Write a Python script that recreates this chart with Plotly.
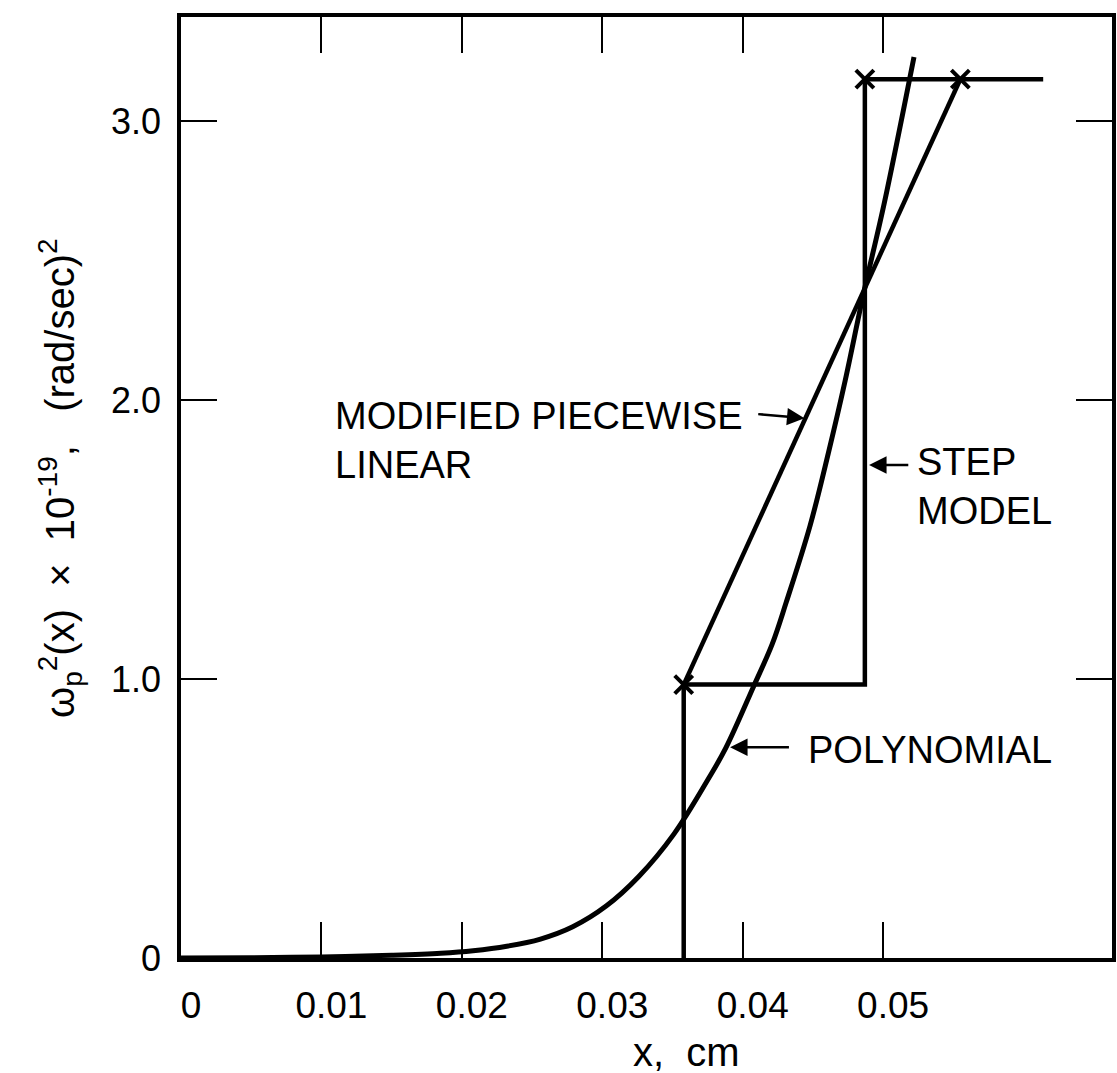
import plotly.graph_objects as go

# ---- data ----
poly_x = [0.0, 0.005, 0.010, 0.015, 0.0185, 0.0208, 0.0232, 0.0256, 0.0279, 0.0303,
          0.0326, 0.0351, 0.0376, 0.0388, 0.0408, 0.0421, 0.0431, 0.0448, 0.0461,
          0.0473, 0.0486, 0.0501, 0.0522]
poly_y = [0.0, 0.001, 0.004, 0.010, 0.017, 0.026, 0.042, 0.068, 0.112, 0.187,
          0.292, 0.444, 0.646, 0.753, 0.976, 1.125, 1.275, 1.55, 1.81,
          2.07, 2.38, 2.71, 3.23]

step_x = [0.0358, 0.0358, 0.0487, 0.0487, 0.0614]
step_y = [0.0, 0.98, 0.98, 3.15, 3.15]

pwl_x = [0.0358, 0.0555]
pwl_y = [0.98, 3.15]

mark_x = [0.0358, 0.0487, 0.0555]
mark_y = [0.98, 3.15, 3.15]

x_tickvals = [0, 0.01, 0.02, 0.03, 0.04, 0.05]
x_ticktext = ["0", "0.01", "0.02", "0.03", "0.04", "0.05"]
y_tickvals = [0, 1, 2, 3]
y_ticktext = ["0", "1.0", "2.0", "3.0"]

label_pwl = "MODIFIED PIECEWISE<br>LINEAR"
label_step = "STEP<br>MODEL"
label_poly = "POLYNOMIAL"
x_title = "x,  cm"
y_title = ("ω<sub>p</sub><sup>2</sup>(x)\u00a0\u00a0×\u00a0\u00a010<sup>-19</sup>,"
           "\u00a0\u00a0\u00a0(rad/sec)<sup>2</sup>")

FONT = "Liberation Sans, Arial, sans-serif"
INK = "black"

fig = go.Figure()
fig.add_trace(go.Scatter(x=poly_x, y=poly_y, mode="lines",
                         line=dict(color=INK, width=5, shape="spline", smoothing=1.0),
                         showlegend=False, hoverinfo="skip"))
fig.add_trace(go.Scatter(x=step_x, y=step_y, mode="lines",
                         line=dict(color=INK, width=4.5),
                         showlegend=False, hoverinfo="skip"))
fig.add_trace(go.Scatter(x=pwl_x, y=pwl_y, mode="lines",
                         line=dict(color=INK, width=4.5),
                         showlegend=False, hoverinfo="skip"))
fig.add_trace(go.Scatter(x=mark_x, y=mark_y, mode="markers",
                         marker=dict(symbol="x-thin", size=18, line=dict(color=INK, width=4)),
                         showlegend=False, hoverinfo="skip"))

ann = []
ann.append(dict(x=0.0108, y=1.855, xref="x", yref="y", text=label_pwl, showarrow=False,
                xanchor="left", yanchor="middle", align="left",
                font=dict(family=FONT, size=38, color=INK)))
ann.append(dict(x=0.0523, y=1.69, xref="x", yref="y", text=label_step, showarrow=False,
                xanchor="left", yanchor="middle", align="left",
                font=dict(family=FONT, size=38, color=INK)))
ann.append(dict(x=0.0445, y=0.745, xref="x", yref="y", text=label_poly, showarrow=False,
                xanchor="left", yanchor="middle", align="left",
                font=dict(family=FONT, size=38, color=INK)))
# arrows pointing to curves
for (tx, ty, sx, sy) in [(0.0444, 1.935, 0.0410, 1.95),
                         (0.0490, 1.767, 0.0519, 1.767),
                         (0.0391, 0.755, 0.0434, 0.755)]:
    ann.append(dict(x=tx, y=ty, ax=sx, ay=sy, xref="x", yref="y", axref="x", ayref="y",
                    text="", showarrow=True, arrowhead=2, arrowsize=1.4, arrowwidth=2.5,
                    arrowcolor=INK))
ann.append(dict(x=0.543, y=-0.1, xref="paper", yref="paper", text=x_title, showarrow=False,
                xanchor="center", yanchor="middle", font=dict(family=FONT, size=40, color=INK)))
ann.append(dict(x=-0.13, y=0.51, xref="paper", yref="paper", text=y_title, showarrow=False,
                textangle=-90, xanchor="center", yanchor="middle",
                font=dict(family=FONT, size=40, color=INK)))

axis_common = dict(showgrid=False, zeroline=False, showline=True, linecolor=INK, linewidth=3.5,
                   mirror="ticks", ticks="inside", ticklen=36, tickwidth=2, tickcolor=INK)

fig.update_layout(
    width=1117, height=1073,
    margin=dict(l=181, r=1, t=17, b=115),
    paper_bgcolor="white", plot_bgcolor="white",
    annotations=ann,
    xaxis=dict(range=[0, 0.0663], tickvals=x_tickvals, ticktext=x_ticktext,
               tickfont=dict(family=FONT, size=37, color=INK), ticklabelstandoff=12,
               ticklabelshift=10, **axis_common),
    yaxis=dict(range=[0, 3.373], tickvals=y_tickvals, ticktext=y_ticktext,
               tickfont=dict(family=FONT, size=36, color=INK), ticklabelstandoff=9,
               **axis_common),
)

fig.write_html("out.html")
